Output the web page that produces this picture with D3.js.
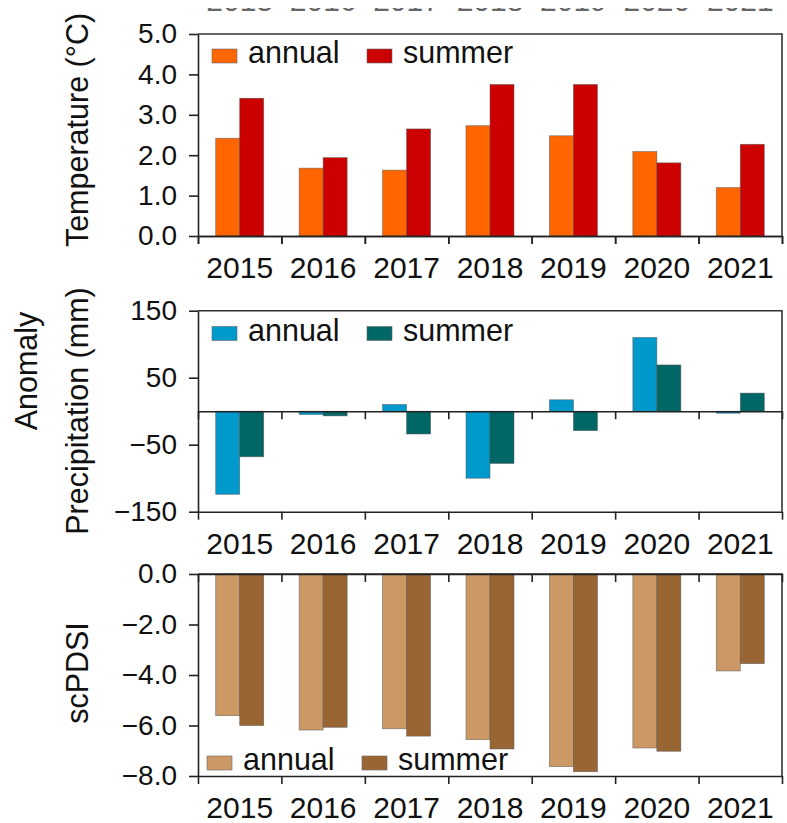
<!DOCTYPE html>
<html>
<head>
<meta charset="utf-8">
<script src="https://cdn.jsdelivr.net/npm/d3@7"></script>
<style>
  html, body { margin: 0; padding: 0; background: #fff; }
  svg { display: block; font-family: "Liberation Sans", Arial, sans-serif; }
</style>
</head>
<body>
<svg id="chart" width="787" height="823"></svg>
<script>
// ---- data ----
const years = ["2015", "2016", "2017", "2018", "2019", "2020", "2021"];
const seriesNames = ["annual", "summer"];

const tempAnnual = [2.42, 1.68, 1.63, 2.73, 2.48, 2.09, 1.20];
const tempSummer = [3.41, 1.94, 2.65, 3.75, 3.75, 1.81, 2.27];
const tempTicks = [0, 1, 2, 3, 4, 5];

const precAnnual = [-124, -5, 10, -100, 17, 110, -3];
const precSummer = [-68, -7, -34, -78, -29, 69, 27];
const precTicks = [-150, -50, 50, 150];

const pdsiAnnual = [-5.61, -6.18, -6.13, -6.56, -7.63, -6.89, -3.84];
const pdsiSummer = [-6.00, -6.07, -6.42, -6.93, -7.83, -7.02, -3.55];
const pdsiTicks = [0, -2, -4, -6, -8];

// ---- layout ----
const svg = d3.select("#chart");
const left = 198, right = 782;
const font = "Liberation Sans, Arial, sans-serif";

const panels = [
  { top: 34, bottom: 236, domain: [0, 5], ticks: tempTicks, fmt: d3.format(".1f"),
    a: tempAnnual, s: tempSummer, colors: ["#FF6600", "#CC0000"],
    title: "Temperature (°C)", titleY: 130, legendY: 63, legendX: 212 },
  { top: 310.7, bottom: 511.7, domain: [-150, 150], ticks: precTicks, fmt: d3.format("d"),
    a: precAnnual, s: precSummer, colors: ["#0099CC", "#006666"],
    title: "Precipitation (mm)", titleY: 411, legendY: 340.5, legendX: 212 },
  { top: 574, bottom: 776, domain: [-8, 0], ticks: pdsiTicks, fmt: d3.format(".1f"),
    a: pdsiAnnual, s: pdsiSummer, colors: ["#CC9966", "#996633"],
    title: "scPDSI", titleY: 673, legendY: 770, legendX: 207 }
];

const x0 = d3.scaleBand().domain(years).range([left, right]).padding(0);
const groupW = 48;
const x1 = d3.scaleBand().domain(seriesNames)
  .range([(x0.bandwidth() - groupW) / 2, (x0.bandwidth() + groupW) / 2]).padding(0);
const edge = d3.scaleLinear().domain([0, years.length]).range([left, right]);

// partially cut-off labels at the very top (bottom of a previous row of labels)
svg.append("defs").append("clipPath").attr("id", "topclip")
  .append("rect").attr("x", 0).attr("y", 8).attr("width", 787).attr("height", 3.5);
svg.append("g").attr("clip-path", "url(#topclip)")
  .selectAll("text").data(years).join("text")
  .attr("x", d => x0(d) + x0.bandwidth() / 2)
  .attr("y", 11)
  .attr("text-anchor", "middle")
  .attr("font-size", 30)
  .attr("fill", "#666")
  .text(d => d);

panels.forEach(p => {
  const y = d3.scaleLinear().domain(p.domain).range([p.bottom, p.top]);
  const g = svg.append("g");

  // bars
  const rows = years.map((yr, i) => ({ yr, vals: [p.a[i], p.s[i]] }));
  const grp = g.selectAll("g.grp").data(rows).join("g")
    .attr("transform", d => `translate(${x0(d.yr)},0)`);
  grp.selectAll("rect").data(d => d.vals.map((v, k) => ({ v, k })))
    .join("rect")
    .attr("x", d => x1(seriesNames[d.k]))
    .attr("width", x1.bandwidth())
    .attr("y", d => y(Math.max(0, d.v)))
    .attr("height", d => Math.abs(y(d.v) - y(0)))
    .attr("fill", d => p.colors[d.k])
    .attr("stroke", "#555")
    .attr("stroke-opacity", 0.7)
    .attr("stroke-width", 0.7);

  // frame (top + right)
  g.append("path")
    .attr("d", `M${left},${p.top}H${right}V${p.bottom}`)
    .attr("fill", "none").attr("stroke", "#333").attr("stroke-width", 1.6);

  // zero line with ticks pointing down
  const zAxis = g.append("g").attr("transform", `translate(0,${y(0)})`)
    .call(d3.axisBottom(edge).tickValues(d3.range(0, years.length + 1)).tickFormat("").tickSize(8).tickSizeOuter(0));
  zAxis.select(".domain").attr("stroke", "#222").attr("stroke-width", 1.6);
  zAxis.selectAll(".tick line").attr("stroke", "#222").attr("stroke-width", 1.6);

  // bottom axis ticks
  const bAxis = g.append("g").attr("transform", `translate(0,${p.bottom})`)
    .call(d3.axisBottom(edge).tickValues(d3.range(0, years.length + 1)).tickFormat("").tickSize(8).tickSizeOuter(0));
  bAxis.select(".domain").attr("stroke", "#222").attr("stroke-width", 1.6);
  bAxis.selectAll(".tick line").attr("stroke", "#222").attr("stroke-width", 1.6);

  // bottom axis labels
  const lAxis = g.append("g").attr("transform", `translate(0,${p.bottom})`)
    .call(d3.axisBottom(x0).tickSize(0).tickPadding(21));
  lAxis.select(".domain").remove();
  lAxis.selectAll("text").attr("font-size", 30).attr("font-family", font).attr("fill", "#111");

  // left axis
  const yAxis = g.append("g").attr("transform", `translate(${left},0)`)
    .call(d3.axisLeft(y).tickValues(p.ticks).tickFormat(p.fmt).tickSize(9).tickPadding(12).tickSizeOuter(0));
  yAxis.select(".domain").attr("stroke", "#222").attr("stroke-width", 1.6);
  yAxis.selectAll(".tick line").attr("stroke", "#222").attr("stroke-width", 1.6);
  yAxis.selectAll("text").attr("font-size", 28).attr("font-family", font).attr("fill", "#111");

  // axis title
  g.append("text")
    .attr("transform", `translate(88,${p.titleY}) rotate(-90)`)
    .attr("text-anchor", "middle")
    .attr("font-size", 30.5).attr("fill", "#111")
    .text(p.title);

  // legend
  const lg = g.append("g");
  const legX = [p.legendX, p.legendX + 155];
  seriesNames.forEach((name, k) => {
    lg.append("rect")
      .attr("x", legX[k]).attr("y", p.legendY - 14)
      .attr("width", 25).attr("height", 14)
      .attr("fill", p.colors[k]).attr("stroke", "#666").attr("stroke-width", 0.6);
    lg.append("text")
      .attr("x", legX[k] + 36).attr("y", p.legendY)
      .attr("font-size", 30.5).attr("fill", "#111")
      .text(name);
  });
});

// shared title
svg.append("text")
  .attr("transform", "translate(37,371) rotate(-90)")
  .attr("text-anchor", "middle")
  .attr("font-size", 30.5).attr("fill", "#111")
  .text("Anomaly");
</script>
</body>
</html>
